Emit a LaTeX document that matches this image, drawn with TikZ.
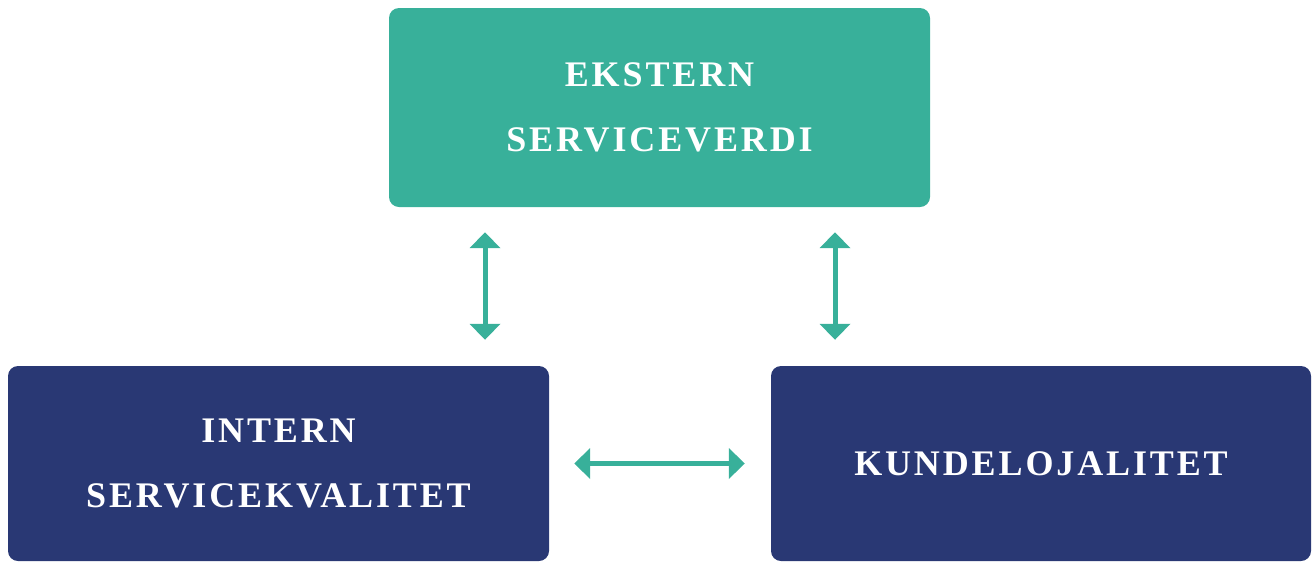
\documentclass[tikz,border=0pt]{standalone}
\usepackage{fontspec}
\setmainfont{Liberation Serif}[LetterSpace=8]
\usetikzlibrary{arrows.meta}
\definecolor{teal1}{RGB}{56,176,154}
\definecolor{navy1}{RGB}{41,56,116}
\tikzset{
  boxbase/.style={rectangle, rounded corners=10pt, inner sep=0pt, align=center,
    text=white, font=\bfseries\fontsize{36}{65}\selectfont},
  topbox/.style={boxbase, fill=teal1, minimum width=541pt, minimum height=199pt},
  botbox/.style={boxbase, fill=navy1, minimum width=541pt, minimum height=195pt},
  arr/.style={draw=teal1, line width=5pt, {Triangle[width=30pt,length=16pt]}-{Triangle[width=30pt,length=16pt]}}
}
\begin{document}
\begin{tikzpicture}[x=1pt,y=-1pt]
\useasboundingbox (0,0) rectangle (1313,563);
\node[topbox] (top) at (659.5,107.5) {EKSTERN\\SERVICEVERDI};
\node[botbox] (left) at (278.5,463.5) {INTERN\\SERVICEKVALITET};
\node[botbox, minimum width=540pt] (right) at (1041,463.5) {KUNDELOJALITET};
\draw[arr] ([xshift=-174.5pt,yshift=-25pt]top.south) -- ([xshift=206.5pt,yshift=26pt]left.north);
\draw[arr] ([xshift=175.5pt,yshift=-25pt]top.south) -- ([xshift=-206pt,yshift=26pt]right.north);
\draw[arr] ([xshift=25pt]left.east) -- ([xshift=-26pt]right.west);
\end{tikzpicture}
\end{document}
